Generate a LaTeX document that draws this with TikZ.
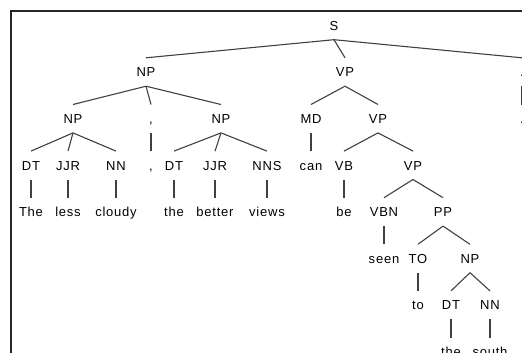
\documentclass[tikz,border=0pt]{standalone}
\usepackage{fontspec}
\setmainfont{Liberation Sans}[LetterSpace=6]
\begin{document}
\begin{tikzpicture}[x=1pt,y=-1pt,
  every node/.style={inner sep=0pt,minimum height=28pt,text height=9.4pt,text depth=0pt,
    font=\fontsize{13}{15}\selectfont,text=black},
  branch/.style={draw=black!75,line width=1.1pt}]
 \useasboundingbox (0,0) rectangle (522,353);
 \clip (0,0) rectangle (522,353);
 \draw[line width=2pt,black!85](10.5,353)--(10.5,11)--(522,11);
 % row 0 and 1
 \node (s) at (334,25.5) {S};
 \node (np1) at (146,72) {NP};
 \node (vp1) at (345,72) {VP};
 \node (pu1) at (522,72) {.};
 % row 2
 \node (np2) at (73,118.7) {NP};
 \node (cm1) at (151,118.7) {,};
 \node (np3) at (221,118.7) {NP};
 \node (md) at (311,118.7) {MD};
 \node (vp2) at (378,118.7) {VP};
 \node (pu2) at (522,118.7) {.};
 % row 3
 \node (dt1) at (31,165.3) {DT};
 \node (jjr1) at (68,165.3) {JJR};
 \node (nn1) at (116,165.3) {NN};
 \node (cm2) at (151,165.3) {,};
 \node (dt2) at (174,165.3) {DT};
 \node (jjr2) at (215,165.3) {JJR};
 \node (nns) at (267,165.3) {NNS};
 \node (can) at (311,165.3) {can};
 \node (vb) at (344,165.3) {VB};
 \node (vp3) at (413,165.3) {VP};
 % row 4
 \node (the1) at (31,211.9) {The};
 \node (less) at (68,211.9) {less};
 \node (cloudy) at (116,211.9) {cloudy};
 \node (the2) at (174,211.9) {the};
 \node (better) at (215,211.9) {better};
 \node (views) at (267,211.9) {views};
 \node (be) at (344,211.9) {be};
 \node (vbn) at (384,211.9) {VBN};
 \node (pp) at (443,211.9) {PP};
 % row 5 to 7
 \node (seen) at (384,258.5) {seen};
 \node (to1) at (418,258.5) {TO};
 \node (np4) at (470,258.5) {NP};
 \node (to2) at (418,305.1) {to};
 \node (dt3) at (451,305.1) {DT};
 \node (nn3) at (490,305.1) {NN};
 \node (the3) at (451,351.7) {the};
 \node (south) at (490,351.7) {south};
 % branches
 \draw[branch](s.south)--(np1.north);
 \draw[branch](s.south)--(vp1.north);
 \draw[branch](s.south)--(pu1.north);
 \draw[branch](pu1.south)--(pu2.north);
 \draw[branch](np1.south)--(np2.north);
 \draw[branch](np1.south)--(cm1.north);
 \draw[branch](np1.south)--(np3.north);
 \draw[branch](vp1.south)--(md.north);
 \draw[branch](vp1.south)--(vp2.north);
 \draw[branch](np2.south)--(dt1.north);
 \draw[branch](np2.south)--(jjr1.north);
 \draw[branch](np2.south)--(nn1.north);
 \draw[branch](cm1.south)--(cm2.north);
 \draw[branch](np3.south)--(dt2.north);
 \draw[branch](np3.south)--(jjr2.north);
 \draw[branch](np3.south)--(nns.north);
 \draw[branch](md.south)--(can.north);
 \draw[branch](vp2.south)--(vb.north);
 \draw[branch](vp2.south)--(vp3.north);
 \draw[branch](dt1.south)--(the1.north);
 \draw[branch](jjr1.south)--(less.north);
 \draw[branch](nn1.south)--(cloudy.north);
 \draw[branch](dt2.south)--(the2.north);
 \draw[branch](jjr2.south)--(better.north);
 \draw[branch](nns.south)--(views.north);
 \draw[branch](vb.south)--(be.north);
 \draw[branch](vp3.south)--(vbn.north);
 \draw[branch](vp3.south)--(pp.north);
 \draw[branch](vbn.south)--(seen.north);
 \draw[branch](pp.south)--(to1.north);
 \draw[branch](pp.south)--(np4.north);
 \draw[branch](to1.south)--(to2.north);
 \draw[branch](np4.south)--(dt3.north);
 \draw[branch](np4.south)--(nn3.north);
 \draw[branch](dt3.south)--(the3.north);
 \draw[branch](nn3.south)--(south.north);
\end{tikzpicture}
\end{document}
